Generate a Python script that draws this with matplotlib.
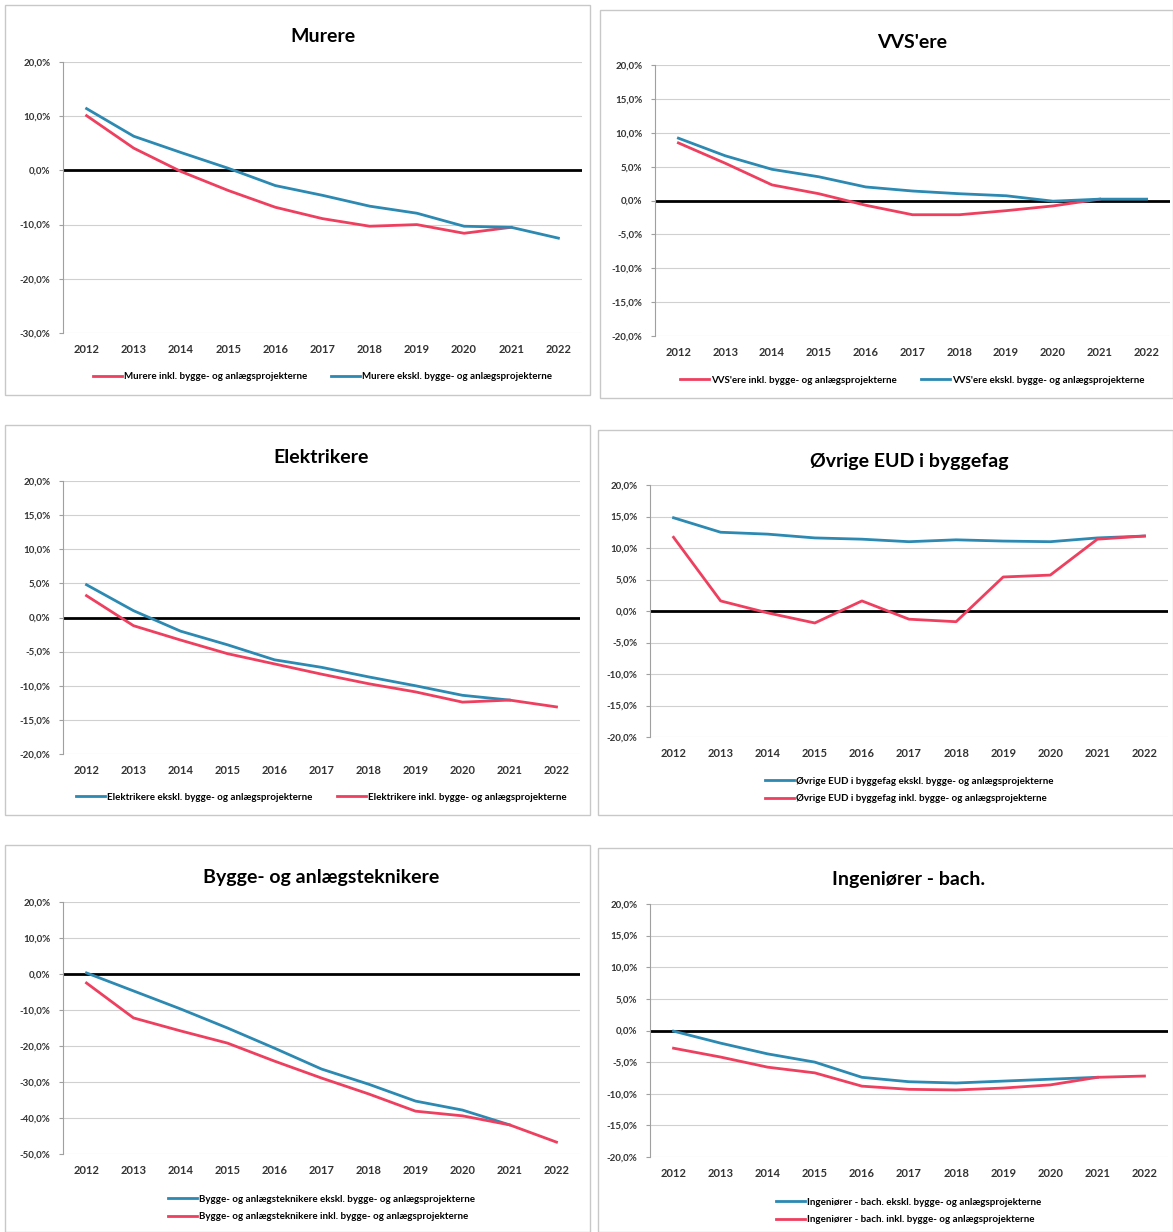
import matplotlib
matplotlib.use("Agg")
import matplotlib.pyplot as plt
from matplotlib.patches import Rectangle
from matplotlib.ticker import FuncFormatter
import numpy as np

plt.rcParams["font.family"] = ["Lato", "DejaVu Sans"]

years = [str(y) for y in range(2012, 2023)]

# Murere
murere_inkl = [10.1, 4.1, -0.2, -3.7, -6.8, -8.9, -10.3, -10.0, -11.6, -10.5, None]
murere_ekskl = [11.4, 6.3, 3.3, 0.4, -2.8, -4.6, -6.6, -7.9, -10.3, -10.5, -12.5]
# VVS'ere
vvs_inkl = [8.5, 5.5, 2.3, 1.0, -0.7, -2.1, -2.1, -1.5, -0.8, 0.2, None]
vvs_ekskl = [9.2, 6.6, 4.6, 3.5, 2.0, 1.4, 1.0, 0.7, -0.1, 0.2, 0.2]
# Elektrikere
el_ekskl = [4.8, 1.0, -2.0, -4.0, -6.2, -7.3, -8.7, -10.0, -11.4, -12.1, None]
el_inkl = [3.2, -1.2, -3.3, -5.3, -6.8, -8.3, -9.7, -10.9, -12.4, -12.1, -13.1]
# Øvrige EUD i byggefag
eud_ekskl = [14.8, 12.5, 12.2, 11.6, 11.4, 11.0, 11.3, 11.1, 11.0, 11.6, 11.9]
eud_inkl = [11.7, 1.6, -0.3, -1.9, 1.6, -1.3, -1.7, 5.4, 5.7, 11.4, 11.9]
# Bygge- og anlægsteknikere
tek_ekskl = [0.3, -4.7, -9.7, -15.0, -20.6, -26.4, -30.6, -35.3, -37.8, -41.9, None]
tek_inkl = [-2.5, -12.2, -15.8, -19.2, -24.2, -28.9, -33.3, -38.1, -39.4, -41.9, -46.7]
# Ingeniører - bach.
ing_ekskl = [-0.1, -2.0, -3.7, -5.0, -7.4, -8.1, -8.3, -8.0, -7.7, -7.4, None]
ing_inkl = [-2.8, -4.2, -5.8, -6.7, -8.8, -9.3, -9.4, -9.1, -8.6, -7.4, -7.2]

RED = "#EE3F5F"
BLUE = "#2C89B2"

W, H = 1173, 1232
fig = plt.figure(figsize=(W / 100, H / 100), dpi=100)


def fx(px):
    return px / W


def fy(py):
    return 1 - py / H


def box(x0, y0, x1, y1):
    fig.patches.append(Rectangle((fx(x0), fy(y1)), fx(x1 - x0), (y1 - y0) / H,
                                 transform=fig.transFigure, fill=False,
                                 edgecolor="#C8C8C8", lw=1.0))


def pct(v, pos):
    return f"{v:.1f}%".replace(".", ",")


def panel(title, frame, area, series, ylim, step, legend_y, ncol):
    box(*frame)
    x0, y0, x1, y1 = area
    ax = fig.add_axes([fx(x0), fy(y1), fx(x1 - x0), (y1 - y0) / H])
    x = np.arange(len(years))
    for label, vals, col in series:
        v = np.array([np.nan if a is None else a for a in vals], dtype=float)
        ax.plot(x, v, color=col, lw=2.0, label=label, zorder=3)
    ax.axhline(0, color="black", lw=2.0, zorder=2)
    ax.set_xlim(-0.5, len(years) - 0.5)
    ax.set_ylim(*ylim)
    ax.set_yticks(np.arange(ylim[0], ylim[1] + 0.01, step))
    ax.yaxis.set_major_formatter(FuncFormatter(pct))
    ax.set_xticks(x)
    ax.set_xticklabels(years)
    ax.grid(axis="y", color="#D0D0D0", lw=0.8)
    ax.set_axisbelow(True)
    for s in ["top", "right", "bottom"]:
        ax.spines[s].set_visible(False)
    ax.spines["left"].set_color("#A0A0A0")
    ax.tick_params(axis="y", length=3, color="#A0A0A0", labelsize=7, pad=6)
    ax.tick_params(axis="x", length=0, labelsize=8, pad=8)
    for t in ax.get_xticklabels() + ax.get_yticklabels():
        t.set_fontweight("bold")
        t.set_color("#333333")
    cx = (x0 + x1) / 2
    fig.text(fx(cx), fy(frame[1] + 32), title, ha="center", va="center",
             fontsize=14, fontweight="bold")
    handles, labels = ax.get_legend_handles_labels()
    fig.legend(handles, labels, loc="center", bbox_to_anchor=(fx(cx), fy(legend_y)),
               ncol=ncol, frameon=False, handlelength=3,
               columnspacing=2.5, handletextpad=0.2, labelspacing=0.9,
               prop={"weight": "bold", "size": 7})


panel("Murere", (5, 5, 590, 395), (63, 62, 582, 333),
      [("Murere inkl. bygge- og anlægsprojekterne", murere_inkl, RED),
       ("Murere ekskl. bygge- og anlægsprojekterne", murere_ekskl, BLUE)],
      (-30, 20), 10, 377, 2)

panel("VVS'ere", (600, 10, 1173, 398), (655, 65, 1170, 336),
      [("VVS'ere inkl. bygge- og anlægsprojekterne", vvs_inkl, RED),
       ("VVS'ere ekskl. bygge- og anlægsprojekterne", vvs_ekskl, BLUE)],
      (-20, 20), 5, 380, 2)

panel("Elektrikere", (5, 425, 590, 815), (63, 481, 580, 754),
      [("Elektrikere ekskl. bygge- og anlægsprojekterne", el_ekskl, BLUE),
       ("Elektrikere inkl. bygge- og anlægsprojekterne", el_inkl, RED)],
      (-20, 20), 5, 797, 2)

panel("Øvrige EUD i byggefag", (598, 430, 1173, 815), (650, 485, 1168, 737),
      [("Øvrige EUD i byggefag ekskl. bygge- og anlægsprojekterne", eud_ekskl, BLUE),
       ("Øvrige EUD i byggefag inkl. bygge- og anlægsprojekterne", eud_inkl, RED)],
      (-20, 20), 5, 790, 1)

panel("Bygge- og anlægsteknikere", (5, 845, 590, 1232), (63, 902, 580, 1154),
      [("Bygge- og anlægsteknikere ekskl. bygge- og anlægsprojekterne", tek_ekskl, BLUE),
       ("Bygge- og anlægsteknikere inkl. bygge- og anlægsprojekterne", tek_inkl, RED)],
      (-50, 20), 10, 1208, 1)

panel("Ingeniører - bach.", (598, 848, 1173, 1232), (650, 904, 1168, 1157),
      [("Ingeniører - bach. ekskl. bygge- og anlægsprojekterne", ing_ekskl, BLUE),
       ("Ingeniører - bach. inkl. bygge- og anlægsprojekterne", ing_inkl, RED)],
      (-20, 20), 5, 1211, 1)

fig.savefig("out.png", dpi=100)
